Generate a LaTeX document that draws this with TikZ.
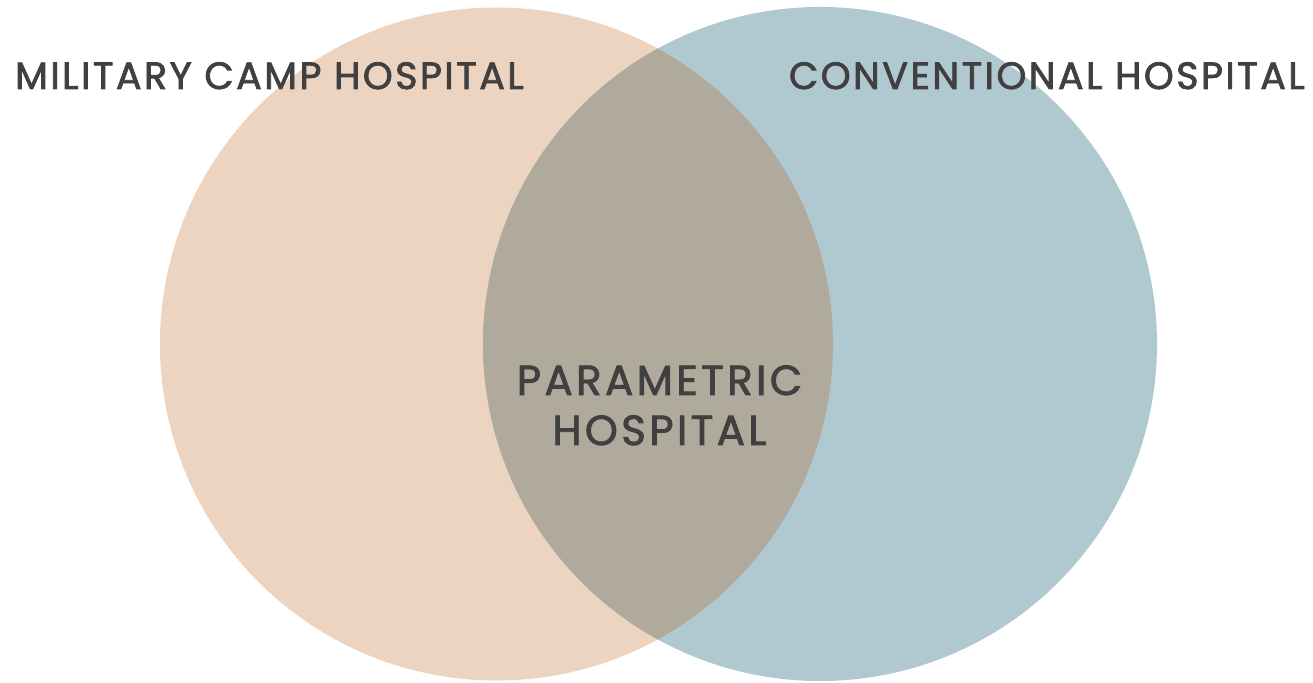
\documentclass[tikz,border=0pt]{standalone}
\usepackage{fontspec}
\newfontfamily\lblfont{Poppins}[FakeBold=2,LetterSpace=6.5]
\newfontfamily\midfont{Poppins}[FakeBold=2,LetterSpace=8]
\definecolor{peach}{HTML}{EDD4C1}
\definecolor{bluegrey}{HTML}{B0C9D1}
\definecolor{overlapc}{HTML}{B0AA9D}
\definecolor{txt}{HTML}{404040}
\begin{document}
\begin{tikzpicture}[x=1pt,y=1pt,
  lbl/.style={text=txt,font=\lblfont\fontsize{38}{46}\selectfont,inner sep=0pt},
  midlbl/.style={text=txt,font=\midfont\fontsize{42}{50}\selectfont,inner sep=0pt}]
\useasboundingbox (0,0) rectangle (1313,682);
\fill[peach] (496.5,338) circle (336.5);
\fill[bluegrey] (820,338) circle (337);
\begin{scope}
\clip (496.5,338) circle (336.5);
\fill[overlapc] (820,338) circle (337);
\end{scope}
\node[lbl,anchor=base west] (mil) at (15,593) {MILITARY CAMP HOSPITAL};
\node[lbl,anchor=base east] (conv) at (1305,593) {CONVENTIONAL HOSPITAL};
\node[midlbl,anchor=base] (par1) at (659.5,287) {PARAMETRIC};
\node[midlbl,anchor=base] (par2) at (659.5,237) {HOSPITAL};
\end{tikzpicture}
\end{document}
